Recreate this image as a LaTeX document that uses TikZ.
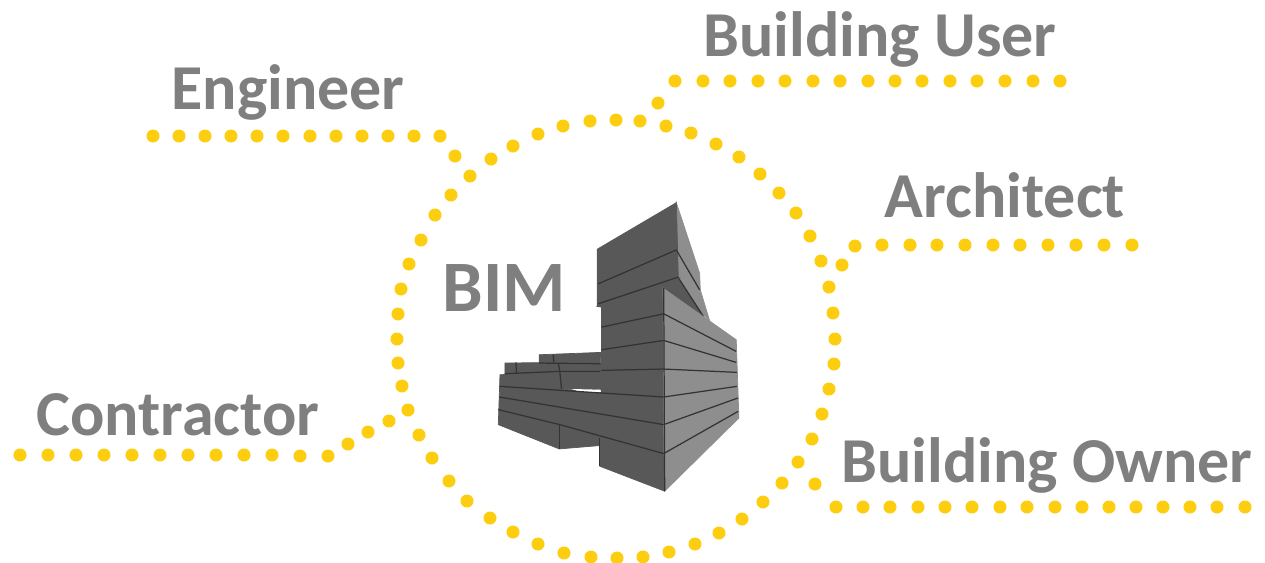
\documentclass[tikz,border=0pt]{standalone}
\usepackage{fontspec}
\setmainfont{Carlito}
\definecolor{labelgray}{HTML}{7F7F7F}
\definecolor{dotyellow}{HTML}{FDCD0F}
\definecolor{facedark}{HTML}{585858}
\definecolor{facelight}{HTML}{8E8E8E}
\definecolor{edgedark}{HTML}{333333}
\tikzset{
  rolelabel/.style={text=labelgray, font=\fontsize{18.2}{20}\selectfont\bfseries, inner sep=0pt},
  dotline/.style={fill=dotyellow},
  darkface/.style={fill=facedark, draw=facedark, line width=0.2pt},
  lightface/.style={fill=facelight, draw=facelight, line width=0.2pt},
  floorline/.style={draw=edgedark, line width=0.35pt}
}
\begin{document}
\begin{tikzpicture}[x=0.01cm, y=-0.01cm]
            \useasboundingbox (0,0) rectangle (1265,563);
            \fill[white] (0,0) rectangle (1265,563);
            \begin{scope}[shift={(480,190)}, x=0.003333cm, y=-0.003333cm]
                \draw[lightface] (590,38) -- (660,250) -- (662,300) -- (690,393) -- (640,345) -- (595,270) -- cycle;
                \draw[darkface] (352,178) -- (590,38) -- (596,265) -- (352,350) -- cycle;
                \draw[darkface] (550,295) -- (596,265) -- (672,381) -- cycle;
                \draw[floorline] (355,282) -- (590,180);
                \draw[floorline] (355,342) -- (595,262);
                \draw[floorline] (590,180) -- (660,300);
                \draw[floorline] (595,262) -- (672,381);
                \draw[darkface] (178,495) -- (362,488) -- (365,600) -- (245,598) -- (240,548) -- (178,520) -- cycle;
                \draw[darkface] (75,520) -- (235,518) -- (245,600) -- (75,590) -- cycle;
                \draw[darkface] (60,555) -- (240,548) -- (245,598) -- (360,608) -- (552,622) -- (552,792) -- (358,745) -- (358,768) -- (238,778) -- (55,705) -- cycle;
                \draw[darkface] (360,745) -- (552,792) -- (555,905) -- (360,830) -- cycle;
                \draw[darkface] (352,350) -- (596,265) -- (550,295) -- (552,622) -- (365,610) -- (365,352) -- cycle;
                \draw[lightface] (550,295) -- (770,450) -- (778,685) -- (555,905) -- (552,622) -- cycle;
                \fill[white] (275,598) -- (360,600) -- (360,608) -- (300,606) -- cycle;
                \draw[floorline] (365,412) -- (552,372);
                \draw[floorline] (365,480) -- (552,452);
                \draw[floorline] (365,542) -- (552,538);
                \draw[floorline] (552,372) -- (770,485);
                \draw[floorline] (552,452) -- (770,518);
                \draw[floorline] (552,538) -- (772,548);
                \draw[floorline] (552,622) -- (772,590);
                \draw[floorline] (552,705) -- (775,625);
                \draw[floorline] (552,792) -- (776,665);
                \draw[floorline] (60,590) -- (365,610) -- (552,622);
                \draw[floorline] (58,622) -- (552,705);
                \draw[floorline] (55,660) -- (240,705) -- (552,792);
                \draw[floorline] (178,520) -- (362,522);
                \draw[floorline] (75,552) -- (240,545) -- (362,545);
                \draw[floorline] (240,548) -- (245,598);
                \draw[floorline] (238,705) -- (238,778);
                \draw[floorline] (360,745) -- (360,830);
                \draw[floorline] (552,295) -- (555,905);
                \draw[floorline] (108,518) -- (110,552);
                \draw[floorline] (220,495) -- (222,518);
                \draw[floorline] (235,520) -- (240,545);
            \end{scope}
            \fill[dotline] (153,136) circle (1.85pt) (179,136) circle (1.85pt) (205,136) circle (1.85pt) (231,136) circle (1.85pt) (257,136) circle (1.85pt) (283,136) circle (1.85pt) (310,136) circle (1.85pt) (336,136) circle (1.85pt) (362,136) circle (1.85pt) (388,136) circle (1.85pt) (414,136) circle (1.85pt) (440,136) circle (1.85pt) (455,156) circle (1.85pt);
            \fill[dotline] (658,103) circle (1.85pt) (675,81) circle (1.85pt) (703,81) circle (1.85pt) (730,81) circle (1.85pt) (758,81) circle (1.85pt) (785,81) circle (1.85pt) (813,81) circle (1.85pt) (840,81) circle (1.85pt) (868,81) circle (1.85pt) (895,81) circle (1.85pt) (922,81) circle (1.85pt) (950,81) circle (1.85pt) (977,81) circle (1.85pt) (1005,81) circle (1.85pt) (1033,81) circle (1.85pt) (1060,81) circle (1.85pt);
            \fill[dotline] (842,265) circle (1.85pt) (855,246) circle (1.85pt) (882,245) circle (1.85pt) (910,245) circle (1.85pt) (937,245) circle (1.85pt) (965,245) circle (1.85pt) (993,245) circle (1.85pt) (1020,245) circle (1.85pt) (1048,245) circle (1.85pt) (1076,245) circle (1.85pt) (1104,245) circle (1.85pt) (1132,245) circle (1.85pt);
            \fill[dotline] (815,484) circle (1.85pt) (836,507) circle (1.85pt) (863,507) circle (1.85pt) (890,507) circle (1.85pt) (918,507) circle (1.85pt) (945,507) circle (1.85pt) (972,507) circle (1.85pt) (1000,507) circle (1.85pt) (1027,507) circle (1.85pt) (1055,507) circle (1.85pt) (1082,507) circle (1.85pt) (1109,507) circle (1.85pt) (1136,507) circle (1.85pt) (1163,507) circle (1.85pt) (1190,507) circle (1.85pt) (1217,507) circle (1.85pt) (1245,507) circle (1.85pt);
            \fill[dotline] (20,455) circle (1.85pt) (48,455) circle (1.85pt) (76,455) circle (1.85pt) (104,455) circle (1.85pt) (132,455) circle (1.85pt) (160,455) circle (1.85pt) (188,455) circle (1.85pt) (216,455) circle (1.85pt) (244,455) circle (1.85pt) (272,455) circle (1.85pt) (300,456) circle (1.85pt) (328,456) circle (1.85pt) (348,444) circle (1.85pt) (368,432) circle (1.85pt) (389,421) circle (1.85pt);
            \fill[dotline] (470,176) circle (1.85pt) (491,159) circle (1.85pt) (513,146) circle (1.85pt) (538,134) circle (1.85pt) (563,126) circle (1.85pt) (590,121) circle (1.85pt) (616,120) circle (1.85pt) (640,121) circle (1.85pt) (666,126) circle (1.85pt) (691,133) circle (1.85pt) (716,144) circle (1.85pt) (739,157) circle (1.85pt) (760,174) circle (1.85pt) (779,193) circle (1.85pt) (796,213) circle (1.85pt) (810,236) circle (1.85pt) (821,261) circle (1.85pt) (829,287) circle (1.85pt) (833,313) circle (1.85pt) (835,339) circle (1.85pt) (834,364) circle (1.85pt) (829,389) circle (1.85pt) (822,414) circle (1.85pt) (812,439) circle (1.85pt) (798,462) circle (1.85pt) (782,483) circle (1.85pt) (763,502) circle (1.85pt) (742,519) circle (1.85pt) (719,533) circle (1.85pt) (695,544) circle (1.85pt) (669,552) circle (1.85pt) (643,557) circle (1.85pt) (617,558) circle (1.85pt) (591,557) circle (1.85pt) (564,553) circle (1.85pt) (538,544) circle (1.85pt) (513,532) circle (1.85pt) (490,518) circle (1.85pt) (467,501) circle (1.85pt) (449,481) circle (1.85pt) (432,458) circle (1.85pt) (419,435) circle (1.85pt) (408,410) circle (1.85pt) (402,386) circle (1.85pt) (398,363) circle (1.85pt) (397,339) circle (1.85pt) (398,314) circle (1.85pt) (401,289) circle (1.85pt) (409,264) circle (1.85pt) (421,240) circle (1.85pt) (435,215) circle (1.85pt) (451,195) circle (1.85pt);
            \node[rolelabel] (engineer) at (288,92) {Engineer};
            \node[rolelabel] (buildinguser) at (880,39) {Building User};
            \node[rolelabel] (architect) at (1005,195) {Architect};
            \node[rolelabel, font=\fontsize{20.6}{22}\selectfont\bfseries] (bim) at (504,288) {BIM};
            \node[rolelabel] (contractor) at (178,415) {Contractor};
            \node[rolelabel] (buildingowner) at (1047,465) {Building Owner};
\end{tikzpicture}
\end{document}
